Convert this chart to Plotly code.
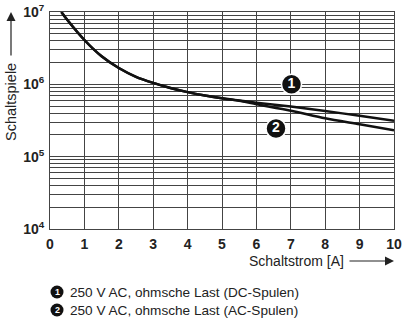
import plotly.graph_objects as go

# ---- data ----
x_vals = [0.33, 0.5, 1, 1.5, 2, 2.5, 3, 3.5, 4, 4.5, 5, 5.5, 6, 7, 8, 9, 10]
dc_coils = [1.0e7, 7.8e6, 4.1e6, 2.44e6, 1.68e6, 1.27e6, 1.047e6, 8.9e5, 7.8e5, 7.0e5, 6.4e5, 5.97e5, 5.57e5, 4.92e5, 4.27e5, 3.68e5, 3.14e5]
ac_coils = [1.0e7, 7.8e6, 4.1e6, 2.44e6, 1.68e6, 1.27e6, 1.047e6, 8.9e5, 7.8e5, 7.0e5, 6.4e5, 5.92e5, 5.31e5, 4.32e5, 3.39e5, 2.80e5, 2.31e5]
label_pos_x = [7.02, 6.57]
label_pos_y = [1.0e6, 2.45e5]
label_text = ["1", "2"]
legend_text = ["250 V AC, ohmsche Last (DC-Spulen)", "250 V AC, ohmsche Last (AC-Spulen)"]
x_ticks = list(range(0, 11))
y_ticks = [1e4, 1e5, 1e6, 1e7]
y_ticktext = ["10<sup>4</sup>", "10<sup>5</sup>", "10<sup>6</sup>", "10<sup>7</sup>"]
y_minor = [m * 10 ** e for e in range(4, 7) for m in range(2, 10)]

W, H = 408, 325
L, R, T, B = 50, 14, 12, 96
pw, ph = W - L - R, H - T - B

def px(xp):
    return (xp - L) / pw

def py(yp):
    return (H - B - yp) / ph

FONT = "Liberation Sans, Arial, sans-serif"

fig = go.Figure()
for ys in (dc_coils, ac_coils):
    fig.add_trace(go.Scatter(x=x_vals, y=ys, mode="lines",
                             line=dict(color="#111", width=2.5, shape="spline", smoothing=0.8),
                             showlegend=False, hoverinfo="skip"))
fig.add_trace(go.Scatter(x=label_pos_x, y=label_pos_y, mode="markers+text",
                         marker=dict(size=20, color="#111", line=dict(color="white", width=1.5)),
                         text=label_text, textposition="middle center",
                         textfont=dict(color="white", size=14, family=FONT, weight="bold"),
                         showlegend=False, hoverinfo="skip"))

shapes = []
annotations = []
for i, t in enumerate(legend_text):
    cy = 292 + 18 * i
    shapes.append(dict(type="circle", xref="paper", yref="paper",
                       xsizemode="pixel", ysizemode="pixel",
                       xanchor=px(57), yanchor=py(cy),
                       x0=-6.5, x1=6.5, y0=-6.5, y1=6.5,
                       fillcolor="#111", line=dict(width=0)))
    annotations.append(dict(xref="paper", yref="paper", x=px(57), y=py(cy), text=str(i + 1),
                            showarrow=False, font=dict(color="white", size=9, family=FONT, weight="bold"),
                            xanchor="center", yanchor="middle"))
    annotations.append(dict(xref="paper", yref="paper", x=px(68), y=py(cy), text=t,
                            showarrow=False, font=dict(color="#222", size=13.6, family=FONT),
                            xanchor="left", yanchor="middle"))

# axis titles with arrows
annotations.append(dict(xref="paper", yref="paper", x=px(11), y=py(102), text="Schaltspiele",
                        textangle=-90, showarrow=False, font=dict(size=14.5, family=FONT, color="#222"),
                        xanchor="center", yanchor="middle"))
annotations.append(dict(xref="paper", yref="paper", x=px(11), y=py(12), text="",
                        showarrow=True, ax=0, ay=45, arrowhead=2, arrowsize=1.5, arrowwidth=1.2,
                        arrowcolor="#222"))
annotations.append(dict(xref="paper", yref="paper", x=px(296), y=py(261), text="Schaltstrom [A]",
                        showarrow=False, font=dict(size=14, family=FONT, color="#222"),
                        xanchor="center", yanchor="middle"))
annotations.append(dict(xref="paper", yref="paper", x=px(394), y=py(261), text="",
                        showarrow=True, ax=-46, ay=0, arrowhead=2, arrowsize=1.5, arrowwidth=1.2,
                        arrowcolor="#222"))

fig.update_layout(
    width=W, height=H,
    margin=dict(l=L, r=R, t=T, b=B),
    paper_bgcolor="white", plot_bgcolor="white",
    shapes=shapes, annotations=annotations,
    xaxis=dict(range=[0, 10], tickvals=x_ticks, showgrid=True, gridcolor="#444", gridwidth=1,
               showline=True, linecolor="#444", linewidth=1, mirror=True, zeroline=False,
               ticks="", tickfont=dict(size=14, family=FONT, color="#222", weight="bold"),
               ticklabelstandoff=2, automargin=False),
    yaxis=dict(type="log", range=[4, 7], tickvals=y_ticks, ticktext=y_ticktext,
               showgrid=True, gridcolor="#444", gridwidth=1,
               minor=dict(tickvals=y_minor, showgrid=True, gridcolor="#444", gridwidth=1, ticks=""),
               showline=True, linecolor="#444", linewidth=1, mirror=True, zeroline=False,
               ticks="", tickfont=dict(size=14, family=FONT, color="#222", weight="bold"),
               ticklabelstandoff=2, automargin=False),
)

fig.write_html("out.html")
